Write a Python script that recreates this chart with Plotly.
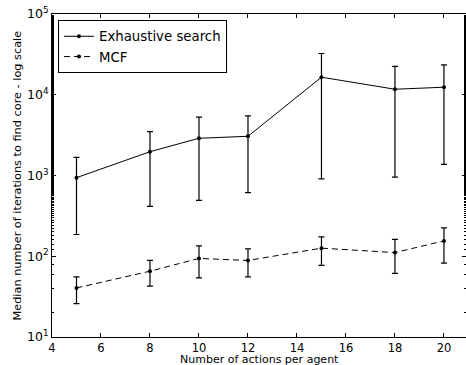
import plotly.graph_objects as go

x_vals = [5, 8, 10, 12, 15, 18, 20]

exh_median = [940, 1970, 2890, 3060, 16500, 11700, 12400]
exh_upper = [1680, 3490, 5270, 5470, 32400, 22400, 23500]
exh_lower = [186, 415, 492, 612, 906, 957, 1377]

mcf_median = [40.5, 65.3, 94, 88.7, 126, 111, 155]
mcf_upper = [55.6, 88.7, 134.6, 123.6, 174, 161.6, 225]
mcf_lower = [25.9, 42.6, 54, 55.6, 77, 61.2, 82]

y_tick_vals = [10, 100, 1000, 10000, 100000]
y_tick_text = ["10<sup>1</sup>", "10<sup>2</sup>", "10<sup>3</sup>", "10<sup>4</sup>", "10<sup>5</sup>"]
x_tick_vals = [4, 6, 8, 10, 12, 14, 16, 18, 20]

x_title = "Number of actions per agent"
y_title = "Median number of iterations to find core - log scale"


def err(med, up, lo):
    return dict(
        type="data", symmetric=False,
        array=[u - m for u, m in zip(up, med)],
        arrayminus=[m - l for m, l in zip(med, lo)],
        color="black", thickness=1.2, width=3,
    )


fig = go.Figure()
fig.add_trace(go.Scatter(
    x=x_vals, y=exh_median, name="Exhaustive search", mode="lines+markers",
    line=dict(color="black", width=1), marker=dict(color="black", size=4),
    error_y=err(exh_median, exh_upper, exh_lower),
))
fig.add_trace(go.Scatter(
    x=x_vals, y=mcf_median, name="MCF", mode="lines+markers",
    line=dict(color="black", width=1, dash="6px,4px"), marker=dict(color="black", size=4),
    error_y=err(mcf_median, mcf_upper, mcf_lower),
))
fig.add_trace(go.Scatter(x=[None], y=[None], yaxis="y2", showlegend=False, hoverinfo="skip"))

font_family = "DejaVu Sans"
fig.update_layout(
    width=466, height=365,
    margin=dict(l=52, r=0, t=14, b=28, autoexpand=False),
    paper_bgcolor="white", plot_bgcolor="white",
    font=dict(family=font_family, color="black", size=12),
    showlegend=True,
    legend=dict(
        x=0.0145, y=0.981, xanchor="left", yanchor="top",
        bgcolor="white", bordercolor="black", borderwidth=1,
        font=dict(size=13.3, family=font_family),
        tracegroupgap=0, itemwidth=30,
    ),
    xaxis=dict(
        range=[4, 20.9], tickvals=x_tick_vals, automargin=False,
        showline=True, linecolor="black", linewidth=1, mirror="ticks",
        ticks="inside", ticklen=4, tickcolor="black",
        showgrid=False, zeroline=False,
        tickfont=dict(size=11.5),
    ),
    yaxis=dict(
        type="log", range=[1, 5], tickvals=y_tick_vals, ticktext=y_tick_text, automargin=False,
        showline=True, linecolor="black", linewidth=1, mirror=False,
        ticks="inside", ticklen=4, tickcolor="black",
        minor=dict(ticks="inside", ticklen=2, tickcolor="black", showgrid=False),
        showgrid=False, zeroline=False,
        tickfont=dict(size=12.5),
    ),
    yaxis2=dict(
        type="log", range=[1, 5], overlaying="y", side="right", anchor="x", automargin=False,
        tickvals=y_tick_vals, showticklabels=False, showline=False,
        ticks="inside", ticklen=4, tickcolor="black",
        minor=dict(ticks="inside", ticklen=2, tickcolor="black", showgrid=False),
        showgrid=False, zeroline=False,
    ),
    annotations=[
        dict(text=x_title, xref="paper", yref="paper", x=0.5, y=0, yshift=-22,
             xanchor="center", yanchor="middle", showarrow=False, font=dict(size=11)),
        dict(text=y_title, xref="paper", yref="paper", x=0, y=0.5, xshift=-35,
             xanchor="center", yanchor="middle", textangle=-90, showarrow=False, font=dict(size=11.3)),
    ],
)

fig.write_html("out.html", config={"displayModeBar": False},
               post_script="document.body.style.margin='0';document.body.style.overflow='hidden';")
